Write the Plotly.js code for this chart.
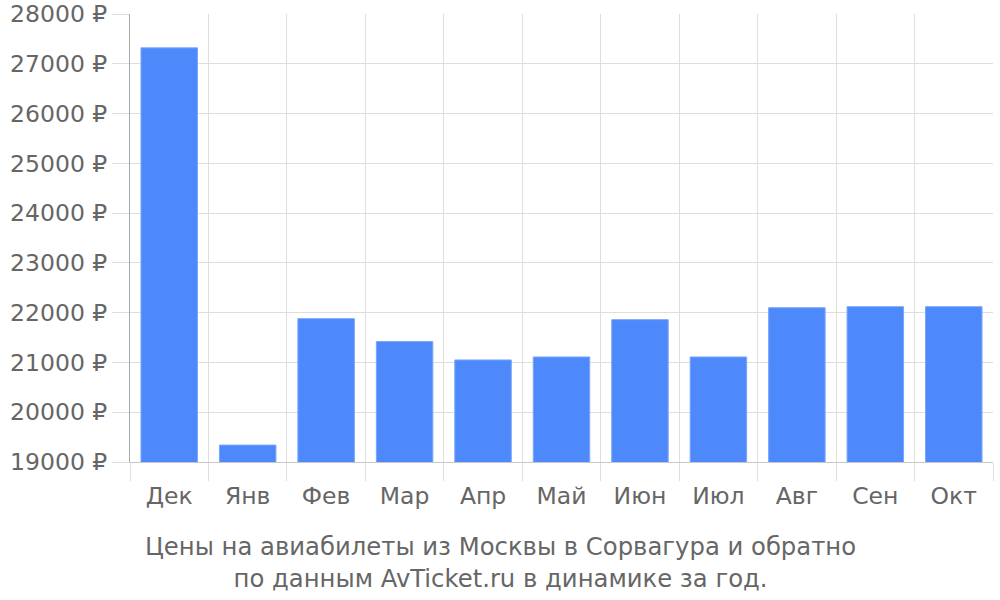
<!DOCTYPE html>
<html><head><meta charset="utf-8">
<script src="https://cdn.plot.ly/plotly-3.0.1.min.js"></script>
<style>html,body{margin:0;padding:0;background:#fff}#chart{width:1000px;height:600px}</style>
</head><body><div id="chart"></div>
<script>
const months = ["Дек","Янв","Фев","Мар","Апр","Май","Июн","Июл","Авг","Сен","Окт"];
const prices = [27320, 19340, 21880, 21420, 21050, 21110, 21860, 21110, 22100, 22120, 22120];
const tickValues = [19000,20000,21000,22000,23000,24000,25000,26000,27000,28000];
const tickLabels = tickValues.map(v => v + " ₽");
const titleLines = ["Цены на авиабилеты из Москвы в Сорвагура и обратно","по данным AvTicket.ru в динамике за год."];

Plotly.newPlot("chart", [{
  type: "bar", x: months, y: prices,
  marker: {color: "#4d89fa", line: {color: "#7aa6fb", width: 1}},
  hoverinfo: "none"
}], {
  width: 1000, height: 600,
  margin: {l: 130, r: 7, t: 14, b: 138},
  paper_bgcolor: "#fff", plot_bgcolor: "#fff",
  bargap: 0.28,
  font: {family: "DejaVu Sans", color: "#666", size: 23.5},
  annotations: [{text: titleLines.join("<br>"), xref: "paper", x: (500-130)/863, xanchor: "center",
          yref: "paper", y: (462-530)/448, yanchor: "top", showarrow: false, align: "center",
          font: {family: "DejaVu Sans", size: 24.3, color: "#666"}}],
  xaxis: {type: "category", tickson: "boundaries", showgrid: true, gridcolor: "#dedede", gridwidth: 1,
          ticks: "outside", ticklen: 18, tickcolor: "#dedede", tickwidth: 1,
          ticklabelstandoff: 13,
          showline: true, linecolor: "#c8c8c8", linewidth: 1,
          tickfont: {size: 23.5, color: "#666"}, fixedrange: true},
  yaxis: {range: [19000, 28000], tickvals: tickValues, ticktext: tickLabels,
          showgrid: true, gridcolor: "#dedede", gridwidth: 1,
          ticks: "outside", ticklen: 17, tickcolor: "#dedede",
          showline: true, linecolor: "#aaa", linewidth: 1, zeroline: false,
          tickfont: {size: 23.5, color: "#666"}, fixedrange: true},
  showlegend: false
}, {staticPlot: true});
</script></body></html>
